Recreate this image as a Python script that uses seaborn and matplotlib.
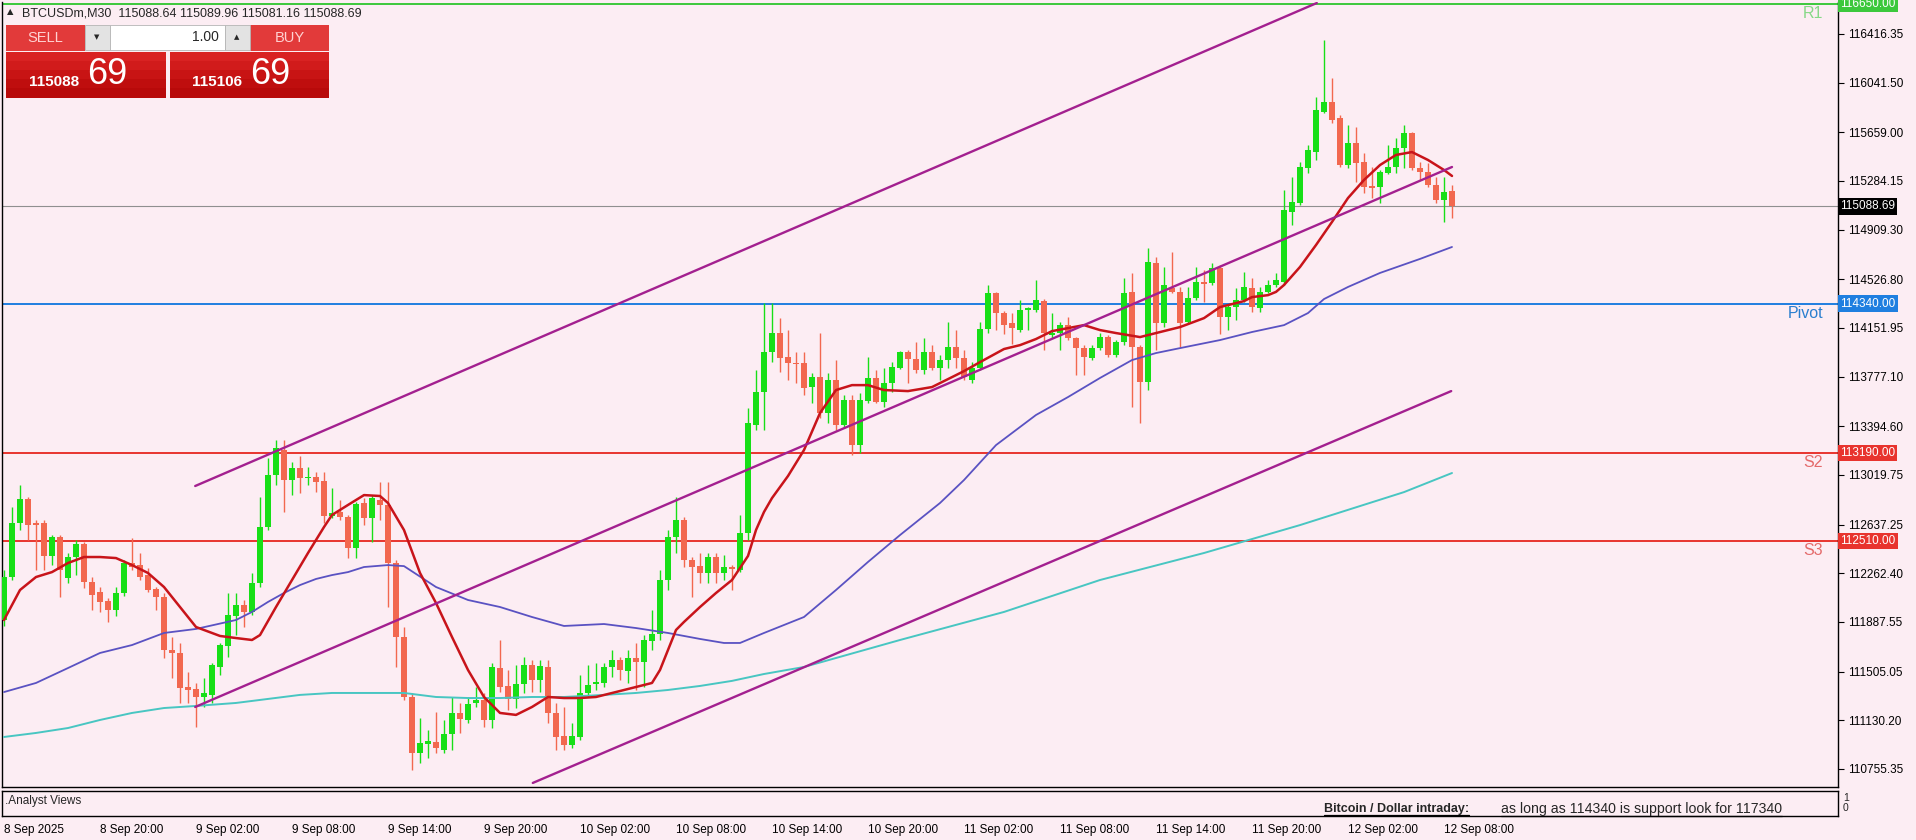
import matplotlib
matplotlib.use("Agg")
import matplotlib.pyplot as plt
import numpy as np
import seaborn as sns
from matplotlib import transforms
from matplotlib.lines import Line2D
from matplotlib.patches import Rectangle

# ---------------- chart values (BTCUSDm, M30) ----------------
opens = [
    111903, 112234, 112650, 112835, 112650, 112650, 112396, 112542, 112226, 112388,
    112488, 112195, 112118, 112049, 111980, 112111, 112342, 112326, 112249, 112142,
    112080, 111672, 111649, 111387, 111372, 111310, 111326, 111541, 111703, 111934,
    112018, 111965, 112188, 112619, 113019, 113212, 112981, 113073, 112996, 113004,
    112973, 112704, 112735, 112696, 112457, 112804, 112688, 112827, 112789, 112342,
    111772, 111310, 110879, 110948, 110964, 110902, 111025, 111187, 111133, 111264,
    111287, 111133, 111533, 111395, 111295, 111410, 111556, 111441, 111541, 111187,
    111010, 110941, 111002, 111341, 111410, 111418, 111541, 111595, 111510, 111610,
    111580, 111741, 111795, 112211, 112542, 112673, 112365, 112318, 112265, 112388,
    112265, 112311, 112288, 112573, 113404, 113658, 113966, 114113, 113928, 113882,
    113882, 113697, 113774, 113497, 113751, 113404, 113597, 113250, 113589, 113767,
    113582, 113728, 113843, 113966, 113912, 113828, 113966, 113843, 113905, 114005,
    113920, 113751, 113843, 114144, 114422, 114267, 114190, 114136, 114290, 114290,
    114359, 114098, 114113, 114174, 114074, 113997, 113920, 113997, 114082, 113943,
    114043, 114430, 114005, 113736, 114653, 114190, 114460, 114430, 114198, 114383,
    114507, 114499, 114614, 114236, 114313, 114367, 114460, 114305, 114430, 114483,
    114507, 115046, 115115, 115384, 115507, 115816, 115893, 115769, 115407, 115577,
    115430, 115246, 115238, 115346, 115392, 115538, 115654, 115384, 115353, 115253,
    115138, 115208,
]
highs = [
    112288, 112773, 112942, 112850, 112673, 112673, 112557, 112557, 112419, 112519,
    112504, 112234, 112157, 112072, 112157, 112365, 112534, 112419, 112303, 112157,
    112111, 111772, 111726, 111502, 111418, 111456, 111572, 111726, 112111, 112111,
    112057, 112265, 112850, 113150, 113289, 113289, 113120, 113166, 113081, 113043,
    113043, 112919, 112827, 112712, 112812, 112842, 112865, 112965, 112965, 112365,
    111849, 111341, 111148, 111056, 111195, 111133, 111310, 111264, 111310, 111387,
    111341, 111572, 111749, 111518, 111556, 111618, 111595, 111595, 111595, 111264,
    111233, 111110, 111479, 111556, 111572, 111572, 111672, 111618, 111672, 111726,
    111788, 111980, 112288, 112596, 112850, 112696, 112388, 112419, 112419, 112419,
    112403, 112326, 112712, 113535, 113828, 114344, 114344, 114228, 114136, 113966,
    113966, 113805, 114113, 113805, 113905, 113635, 113635, 113651, 113928, 113828,
    113843, 113889, 113974, 113982, 114043, 114074, 114020, 113943, 114197, 114136,
    113982, 113889, 114198, 114483, 114430, 114282, 114267, 114367, 114313, 114522,
    114375, 114267, 114198, 114236, 114082, 114020, 114020, 114113, 114098, 114059,
    114537, 114576, 114020, 114768, 114699, 114622, 114738, 114468, 114468, 114622,
    114599, 114653, 114638, 114329, 114460, 114584, 114537, 114468, 114522, 114576,
    115215, 115315, 115430, 115561, 115931, 116370, 116077, 115793, 115715, 115700,
    115500, 115392, 115369, 115561, 115615, 115715, 115662, 115430, 115423, 115315,
    115315, 115253,
]
lows = [
    111857, 112211, 112596, 112519, 112288, 112288, 112326, 112080, 112188, 112249,
    112149, 111980, 111965, 111888, 111934, 112088, 112288, 112211, 112118, 111980,
    111610, 111456, 111264, 111264, 111079, 111233, 111264, 111479, 111618, 111787,
    111849, 111942, 112157, 112596, 112942, 112735, 112865, 112881, 112942, 112888,
    112650, 112688, 112673, 112380, 112380, 112634, 112504, 112673, 112003, 111541,
    111287, 110748, 110802, 110840, 110879, 110879, 110902, 111033, 111110, 111233,
    111079, 111071, 111349, 111210, 111225, 111341, 111349, 111349, 111110, 110902,
    110902, 110917, 110979, 111310, 111364, 111387, 111464, 111441, 111418, 111364,
    111387, 111672, 111749, 112134, 112419, 112311, 112080, 112188, 112188, 112188,
    112211, 112134, 112272, 112519, 113366, 113366, 113889, 113812, 113751, 113728,
    113635, 113574, 113458, 113420, 113366, 113389, 113173, 113189, 113574, 113574,
    113543, 113658, 113835, 113728, 113805, 113797, 113828, 113751, 113843, 113843,
    113751, 113728, 113828, 114113, 114136, 114105, 114028, 114121, 114136, 114275,
    113982, 114074, 113982, 114059, 113789, 113789, 113905, 113982, 113928, 113928,
    114020, 113543, 113420, 113674, 113982, 114159, 114422, 114005, 114190, 114367,
    114352, 114483, 114105, 114136, 114213, 114352, 114275, 114275, 114422, 114468,
    114483, 114945, 115100, 115346, 115446, 115808, 115731, 115392, 115384, 115276,
    115192, 115153, 115115, 115338, 115346, 115384, 115369, 115292, 115238, 115115,
    114969, 115000,
]
closes = [
    112234, 112650, 112835, 112634, 112634, 112396, 112542, 112288, 112388, 112488,
    112195, 112095, 112042, 111980, 112111, 112342, 112311, 112234, 112134, 112080,
    111672, 111649, 111379, 111364, 111310, 111341, 111556, 111710, 111942, 112018,
    111965, 112188, 112619, 113019, 113227, 112981, 113073, 112996, 113004, 112965,
    112704, 112727, 112696, 112457, 112796, 112688, 112842, 112789, 112342, 111772,
    111310, 110879, 110956, 110971, 110917, 111025, 111187, 111141, 111256, 111287,
    111133, 111541, 111387, 111295, 111410, 111556, 111441, 111549, 111187, 111002,
    110941, 111010, 111341, 111403, 111426, 111541, 111595, 111518, 111610, 111580,
    111749, 111795, 112211, 112542, 112673, 112365, 112311, 112265, 112388, 112265,
    112311, 112295, 112573, 113420, 113658, 113966, 114113, 113920, 113882, 113874,
    113690, 113774, 113497, 113751, 113404, 113597, 113250, 113597, 113767, 113582,
    113728, 113851, 113966, 113912, 113828, 113966, 113843, 113905, 114005, 113920,
    113774, 113843, 114144, 114422, 114267, 114174, 114151, 114290, 114305, 114367,
    114113, 114113, 114174, 114074, 113997, 113928, 113997, 114082, 113943, 114043,
    114422, 114005, 113736, 114661, 114190, 114483, 114430, 114190, 114383, 114507,
    114491, 114614, 114236, 114313, 114367, 114468, 114313, 114430, 114483, 114522,
    115061, 115123, 115392, 115523, 115831, 115893, 115754, 115407, 115577, 115423,
    115238, 115230, 115353, 115392, 115538, 115654, 115384, 115353, 115253, 115138,
    115200, 115088.69,
]

# moving averages (bar index, price)
fast_ma_idx = [0, 2, 4, 6, 8, 10, 12, 14, 16, 18, 20, 22, 24, 27, 29, 31, 32, 34, 36, 38,
               40, 41, 43, 45, 47, 48, 50, 52, 54, 56, 58, 60, 62, 64, 66, 68, 70, 72, 74, 77,
               79, 81, 82, 84, 85, 87, 89, 91, 93, 94, 95, 96, 98, 100, 102, 104, 106, 108, 110, 113,
               116, 119, 120, 122, 125, 127, 129, 131, 133, 135, 137, 139, 142, 144, 147, 150, 152, 155, 156, 158,
               159, 160, 162, 164, 166, 168, 170, 172, 174, 176, 178, 180, 181]
fast_ma = [111903, 112134, 112234, 112272, 112342, 112388, 112388, 112380, 112326, 112265,
           112157, 112003, 111849, 111780, 111764, 111749, 111787, 112003, 112211, 112419,
           112619, 112712, 112789, 112865, 112858, 112804, 112596, 112265, 112034, 111772,
           111518, 111310, 111187, 111172, 111233, 111310, 111302, 111302, 111310, 111356,
           111387, 111418, 111518, 111826, 111888, 112003, 112111, 112211, 112396, 112596,
           112735, 112842, 113012, 113212, 113497, 113674, 113712, 113712, 113674, 113666,
           113697, 113789, 113820, 113889, 113990, 114020, 114067, 114128, 114151, 114174,
           114136, 114113, 114082, 114113, 114159, 114228, 114313, 114359, 114390, 114405,
           114430, 114483, 114622, 114791, 114969, 115153, 115292, 115407, 115485, 115507,
           115446, 115369, 115323]

mid_ma_idx = [0, 4, 8, 12, 16, 20, 24, 29, 31, 33, 35, 37, 39, 41, 43, 45, 48, 50, 54, 58,
              62, 66, 70, 75, 79, 83, 87, 90, 92, 95, 100, 104, 108, 112, 117, 120, 124, 129, 133, 137,
              141, 144, 147, 152, 156, 160, 163, 165, 168, 172, 177, 181]
mid_ma = [111348, 111418, 111533, 111649, 111710, 111803, 111834, 111903, 111965, 112042,
          112111, 112172, 112219, 112249, 112272, 112311, 112326, 112318, 112157, 112057,
          112003, 111926, 111857, 111872, 111841, 111803, 111757, 111726, 111726, 111803,
          111926, 112134, 112350, 112557, 112804, 112981, 113250, 113482, 113620, 113767,
          113905, 113959, 113997, 114059, 114121, 114174, 114267, 114375, 114468, 114576,
          114684, 114776]

slow_ma_idx = [0, 4, 8, 12, 16, 20, 24, 29, 33, 37, 41, 45, 50, 54, 58, 62, 66, 70, 75, 79,
               83, 87, 91, 95, 100, 112, 125, 137, 150, 162, 175, 181]
slow_ma = [111002, 111033, 111071, 111133, 111187, 111225, 111241, 111264, 111295, 111326,
           111341, 111341, 111341, 111310, 111302, 111302, 111310, 111310, 111326, 111341,
           111364, 111395, 111434, 111487, 111541, 111749, 111965, 112211, 112419, 112634,
           112888, 113035]

# trend channel (bar index, price) end points
channel_upper = ([23.9, 164.1], [112935, 116655])
channel_middle = ([23.9, 181.0], [111233, 115392])
channel_lower = ([66.1, 180.9], [110648, 113666])

level_names = ["R1", "Pivot", "S2", "S3"]
level_values = [116650.00, 114340.00, 113190.00, 112510.00]
level_colors = ["#3cc83c", "#1f7fe0", "#e8342e", "#e8342e"]
level_text_colors = ["#86d886", "#2a7fcf", "#e46a6a", "#e46a6a"]

price_ticks = [116416.35, 116041.50, 115659.00, 115284.15, 114909.30, 114526.80,
               114151.95, 113777.10, 113394.60, 113019.75, 112637.25, 112262.40,
               111887.55, 111505.05, 111130.20, 110755.35]

time_ticks = [0, 12, 24, 36, 48, 60, 72, 84, 96, 108, 120, 132, 144, 156, 168, 180]
time_labels = ["8 Sep 2025", "8 Sep 20:00", "9 Sep 02:00", "9 Sep 08:00", "9 Sep 14:00",
               "9 Sep 20:00", "10 Sep 02:00", "10 Sep 08:00", "10 Sep 14:00", "10 Sep 20:00",
               "11 Sep 02:00", "11 Sep 08:00", "11 Sep 14:00", "11 Sep 20:00", "12 Sep 02:00",
               "12 Sep 08:00"]

quote = [115088.64, 115089.96, 115081.16, 115088.69]
bid = 115088.69
ask = 115106.69
lot_size = "1.00"

# ---------------- styling ----------------
BG = "#fcedf3"
UP = "#17df17"
DOWN = "#f2684f"
W, H = 1916, 840

sns.set_style("white")
plt.rcParams["font.family"] = ["Liberation Sans", "DejaVu Sans"]

fig = plt.figure(figsize=(W / 100, H / 100), dpi=100, facecolor=BG)


def fx(x):
    return x / W


def fy(y):
    return 1 - y / H


def px_rect(x0, y0, x1, y1, **kw):
    r = Rectangle((fx(x0), fy(y1)), (x1 - x0) / W, (y1 - y0) / H,
                  transform=fig.transFigure, **kw)
    fig.add_artist(r)
    return r


ax = fig.add_axes([fx(2), fy(787), (1838 - 2) / W, (787 - 2) / H])
sub = fig.add_axes([fx(2), fy(816), (1838 - 2) / W, (816 - 791) / H])
for a in (ax, sub):
    a.set_facecolor(BG)
    for s in a.spines.values():
        s.set_color("black")
        s.set_linewidth(1.0)
ax.spines["top"].set_visible(False)

# candles
o = np.array(opens, dtype=float)
h = np.array(highs, dtype=float)
l = np.array(lows, dtype=float)
c = np.array(closes, dtype=float)
bars = np.arange(len(o))
cols = np.where(c >= o, UP, DOWN)
ax.vlines(bars, l, h, colors=cols, lw=1.0, zorder=3)
ax.bar(bars, np.maximum(np.abs(c - o), 9), bottom=np.minimum(o, c), width=0.64,
       color=cols, linewidth=0, zorder=3)

# moving averages
sns.lineplot(x=slow_ma_idx, y=slow_ma, ax=ax, color="#48c6c2", linewidth=1.4, legend=False, zorder=4)
sns.lineplot(x=mid_ma_idx, y=mid_ma, ax=ax, color="#5a52c2", linewidth=1.3, legend=False, zorder=4)
sns.lineplot(x=fast_ma_idx, y=fast_ma, ax=ax, color="#c8141a", linewidth=1.8, legend=False, zorder=5)

# channel
for xs, ys in (channel_upper, channel_middle, channel_lower):
    sns.lineplot(x=xs, y=ys, ax=ax, color="#a3208f", linewidth=1.7, legend=False, zorder=6)

# horizontal levels
yx = transforms.blended_transform_factory(ax.transAxes, ax.transData)
for name, val, col, tcol in zip(level_names, level_values, level_colors, level_text_colors):
    ax.axhline(val, color=col, lw=1.4, zorder=2)
    ax.text(0.9918, val - 15, name, transform=yx, ha="right", va="top", color=tcol, fontsize=11.5)
    ax.text(1.0012, val, f"{val:.2f}", transform=yx, ha="left", va="center", color="white",
            fontsize=8.5, clip_on=False, zorder=10,
            bbox=dict(boxstyle="square,pad=0.18", fc=col, ec="none"))

last = closes[-1]
ax.axhline(last, color="#8f8f8f", lw=0.8, zorder=2)
ax.text(1.0012, last, f"{last:.2f}", transform=yx, ha="left", va="center", color="white",
        fontsize=8.5, clip_on=False, zorder=10,
        bbox=dict(boxstyle="square,pad=0.18", fc="black", ec="none"))

ax.set_xlim(-0.25, 229.25)
ax.set_xticks([])
ax.yaxis.tick_right()
ax.set_yticks(price_ticks)
ax.set_yticklabels([f"{v:.2f}" for v in price_ticks])
ax.tick_params(axis="y", direction="out", length=4, width=0.8, pad=3, labelsize=8.5, colors="black")
ax.set_ylim(110616.7, 116662.8)
ax.set_xlabel("")
ax.set_ylabel("")

# analyst views sub-window
sub.set_xlim(-0.25, 229.25)
sub.set_ylim(0, 1)
sub.set_yticks([])
sub.set_xticks(time_ticks)
sub.set_xticklabels(time_labels)
sub.tick_params(axis="x", direction="out", length=4, width=0.8, pad=2, labelsize=8.5, colors="black")
for lbl in sub.get_xticklabels():
    lbl.set_horizontalalignment("left")
fig.text(fx(1843), fy(798), "1", fontsize=7.5, va="center", ha="left")
fig.text(fx(1843), fy(808), "0", fontsize=7.5, va="center", ha="left")
fig.text(fx(5), fy(801), ".Analyst Views", fontsize=8.5, va="center", ha="left")
t_bold = fig.text(fx(1324), fy(809), "Bitcoin / Dollar intraday:", fontsize=9,
                  fontweight="bold", va="center", ha="left")
t_view = fig.text(fx(1501), fy(809), "as long as 114340 is support look for 117340",
                  fontsize=10.2, va="center", ha="left")

# header line
fig.text(fx(7), fy(12), "\u25b2", fontsize=6, va="center", ha="left", family=["DejaVu Sans"])
fig.text(fx(22), fy(13), "BTCUSDm,M30  " + " ".join(f"{q:.2f}" for q in quote),
         fontsize=9, va="center", ha="left")

# one-click trading panel
for x0, x1 in ((6, 166), (170, 329)):
    shades = ["#d92222", "#d11b1b", "#c81414", "#bf0e0e", "#b80a0a"]
    step = (97 - 52) / len(shades)
    for k, sh in enumerate(shades):
        px_rect(x0, 52 + k * step, x1, 52 + (k + 1) * step + 0.5, fc=sh, ec="none")
px_rect(6, 25, 85, 51, fc="#e23a3a", ec="none")
px_rect(250, 25, 329, 51, fc="#e23a3a", ec="none")
px_rect(85, 25, 110, 50, fc="#e3e3e3", ec="#b5b5b5", lw=0.6)
px_rect(110, 25, 225, 50, fc="white", ec="#b5b5b5", lw=0.6)
px_rect(225, 25, 250, 50, fc="#e3e3e3", ec="#b5b5b5", lw=0.6)
fig.text(fx(97), fy(37), "\u25bc", fontsize=5, ha="center", va="center", family=["DejaVu Sans"])
fig.text(fx(237), fy(37), "\u25b2", fontsize=5, ha="center", va="center", family=["DejaVu Sans"])
fig.text(fx(219), fy(37), lot_size, fontsize=10, ha="right", va="center")
fig.text(fx(45), fy(38), "SELL", fontsize=10.5, ha="center", va="center", color="#ffd2d2")
fig.text(fx(290), fy(38), "BUY", fontsize=10.5, ha="center", va="center", color="#ffd2d2")
for x_big, x_small, price in ((87, 29, bid), (250, 192, ask)):
    whole, frac = f"{price:.2f}".split(".")
    fig.text(fx(x_small), fy(82), whole, fontsize=11, fontweight="bold", ha="left", va="center",
             color="white")
    fig.text(fx(x_big), fy(75), frac, fontsize=26, ha="left", va="center", color="white")

# underline the analyst view text
fig.canvas.draw()
for t in (t_bold, t_view):
    bb = t.get_window_extent()
    fig.add_artist(Line2D([bb.x0 / W, bb.x1 / W], [(bb.y0 + 0.5) / H] * 2,
                          transform=fig.transFigure, color="black", lw=0.9))

fig.savefig("out.png", dpi=100, facecolor=BG)
